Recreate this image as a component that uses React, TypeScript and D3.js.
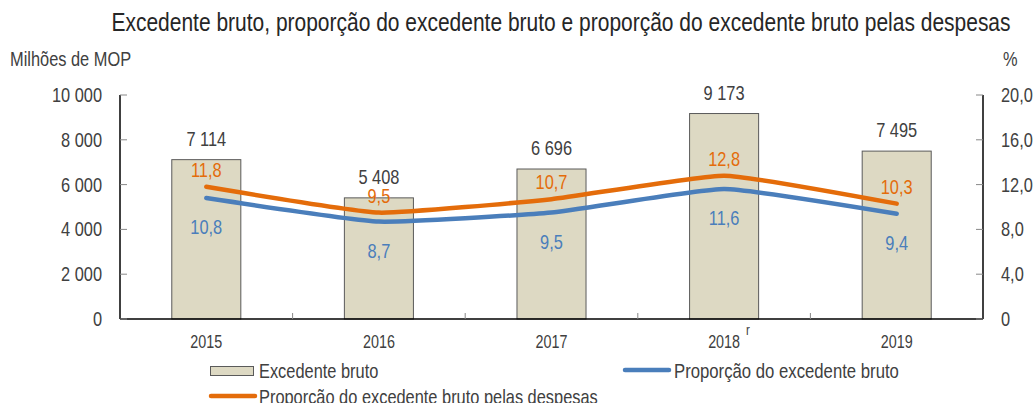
import React from "react";
import * as d3 from "d3";

const years = ["2015", "2016", "2017", "2018", "2019"];
const yearNotes = ["", "", "", "r", ""];
const surplus = [7114, 5408, 6696, 9173, 7495];
const surplusShare = [10.8, 8.7, 9.5, 11.6, 9.4];
const surplusToExpenses = [11.8, 9.5, 10.7, 12.8, 10.3];
const leftTicks = [0, 2000, 4000, 6000, 8000, 10000];
const rightTicks = [0, 4, 8, 12, 16, 20];

const width = 1036;
const height = 403;
const margin = { top: 95, right: 53, bottom: 84, left: 120 };
const textColor = "#404040";
const orange = "#e46c0a";
const blue = "#4a7ebb";

const locale = d3.formatLocale({ decimal: ",", thousands: " ", grouping: [3], currency: ["", ""] });
const fmtInt = locale.format(",d");
const fmtPct = locale.format(".1f");

// narrow text: no Arial Narrow offline, so squeeze Liberation Sans
type TProps = {
  x: number;
  y: number;
  size: number;
  fill?: string;
  anchor?: "start" | "middle" | "end";
  dy?: string;
  children: React.ReactNode;
};
const T = ({ x, y, size, fill = textColor, anchor = "start", dy, children }: TProps) => (
  <text
    transform={`translate(${x},${y}) scale(0.82,1)`}
    fontSize={size}
    textAnchor={anchor}
    fill={fill}
    dy={dy}
  >
    {children}
  </text>
);

const App = () => {
  const x = d3
    .scaleBand()
    .domain(years)
    .range([margin.left, width - margin.right])
    .paddingInner(0.6)
    .paddingOuter(0.3);
  const step = x.step();
  const y = d3.scaleLinear().domain([0, 10000]).range([height - margin.bottom, margin.top]);
  const y2 = d3.scaleLinear().domain([0, 20]).range([height - margin.bottom, margin.top]);
  const cx = (d: string) => (x(d) as number) + x.bandwidth() / 2;

  const line = (vals: number[]) =>
    d3
      .line<number>()
      .x((_, i) => cx(years[i]))
      .y((v) => y2(v))
      .curve(d3.curveCardinal.tension(0.6))(vals) as string;

  const base = height - margin.bottom;
  const left = margin.left;
  const right = width - margin.right;

  return (
    <svg
      width={width}
      height={height}
      style={{ position: "absolute", left: 0, top: 0, fontFamily: "'Liberation Sans', Arial, sans-serif" }}
    >
      <rect width={width} height={height} fill="#fff" />

      {/* Title */}
      <T x={561} y={31} size={25.6} anchor="middle" fill="#262626">
        Excedente bruto, proporção do excedente bruto e proporção do excedente bruto pelas despesas
      </T>
      <T x={10} y={66} size={20}>Milhões de MOP</T>
      <T x={1003} y={66} size={20}>%</T>

      {/* Bars */}
      {years.map((yr, i) => (
        <g key={yr}>
          <rect
            x={x(yr)}
            y={y(surplus[i])}
            width={x.bandwidth()}
            height={base - y(surplus[i])}
            fill="#ddd9c3"
            stroke="#5a5a5a"
            strokeWidth={1}
          />
          <T x={cx(yr)} y={y(surplus[i]) - 14} size={20} anchor="middle">
            {fmtInt(surplus[i])}
          </T>
        </g>
      ))}

      {/* Lines */}
      <path d={line(surplusShare)} fill="none" stroke={blue} strokeWidth={4.5} strokeLinecap="round" />
      <path d={line(surplusToExpenses)} fill="none" stroke={orange} strokeWidth={4.5} strokeLinecap="round" />

      {years.map((yr, i) => (
        <g key={"lbl" + yr}>
          <T x={cx(yr)} y={y2(surplusToExpenses[i]) - 10} size={20} anchor="middle" fill={orange}>
            {fmtPct(surplusToExpenses[i])}
          </T>
          <T x={cx(yr)} y={y2(surplusShare[i]) + 36} size={20} anchor="middle" fill={blue}>
            {fmtPct(surplusShare[i])}
          </T>
        </g>
      ))}

      {/* Axes */}
      <line x1={left} x2={left} y1={margin.top} y2={base} stroke="#000" strokeWidth={1.5} />
      <line x1={right} x2={right} y1={margin.top} y2={base} stroke="#000" strokeWidth={1.5} />
      <line x1={left} x2={right} y1={base} y2={base} stroke="#000" strokeWidth={1.5} />

      {leftTicks.map((t) => (
        <g key={"l" + t}>
          <line x1={left} x2={left + 7} y1={y(t)} y2={y(t)} stroke="#888" />
          <T x={102} y={y(t)} size={20} anchor="end" dy="0.35em">
            {fmtInt(t)}
          </T>
        </g>
      ))}
      {rightTicks.map((t) => (
        <g key={"r" + t}>
          <line x1={right - 7} x2={right} y1={y2(t)} y2={y2(t)} stroke="#888" />
          <T x={1001} y={y2(t)} size={20} dy="0.35em">
            {t === 0 ? "0" : fmtPct(t)}
          </T>
        </g>
      ))}

      {years.slice(1).map((yr) => {
        const bx = (x(yr) as number) - (step - x.bandwidth()) / 2;
        return <line key={"xt" + yr} x1={bx} x2={bx} y1={base - 6} y2={base} stroke="#888" />;
      })}
      {years.map((yr, i) => (
        <g key={"xl" + yr}>
          <T x={cx(yr)} y={348} size={17.5} anchor="middle">
            {yr}
          </T>
          {yearNotes[i] && (
            <T x={cx(yr) + 22} y={335} size={14}>
              {yearNotes[i]}
            </T>
          )}
        </g>
      ))}

      {/* Legend */}
      <rect x={210.5} y={366.5} width={43} height={9} fill="#ddd9c3" stroke="#5a5a5a" />
      <T x={259} y={378} size={20}>Excedente bruto</T>
      <line x1={625} x2={669} y1={370} y2={370} stroke={blue} strokeWidth={4.5} strokeLinecap="round" />
      <T x={674} y={378} size={20.4}>Proporção do excedente bruto</T>
      <line x1={211} x2={255} y1={396} y2={396} stroke={orange} strokeWidth={4.5} strokeLinecap="round" />
      <T x={259} y={404} size={20}>Proporcão do excedente bruto pelas despesas</T>
    </svg>
  );
};

export default App;
